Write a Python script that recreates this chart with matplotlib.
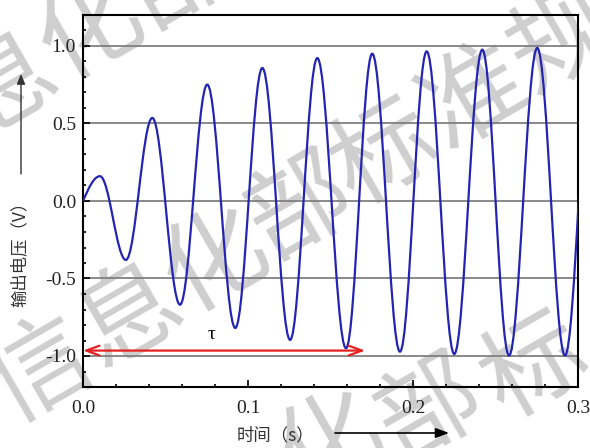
import matplotlib
matplotlib.use("Agg")
import matplotlib.pyplot as plt
from matplotlib.path import Path
from matplotlib.patches import PathPatch
from matplotlib.ticker import MultipleLocator

plt.rcParams['font.family'] = ['Liberation Serif', 'DejaVu Sans']

# extrema of the output voltage (s, V)
t_ext = [0.0, 0.0103, 0.0260, 0.0420, 0.0588, 0.0753, 0.0923, 0.1087, 0.1255,
         0.1420, 0.1594, 0.1753, 0.1921, 0.2083, 0.2250, 0.2420, 0.2582,
         0.2753, 0.2921, 0.3087]
v_ext = [0.0, 0.16, -0.38, 0.536, -0.669, 0.751, -0.819, 0.858, -0.896,
         0.922, -0.950, 0.950, -0.972, 0.965, -0.987, 0.976, -0.997,
         0.987, -0.997, 0.99]

tau_end = 0.171
tau_level = -0.965

xticks = [0.0, 0.1, 0.2, 0.3]
yticks = [-1.0, -0.5, 0.0, 0.5, 1.0]

# watermark characters and where they sit on the page (pixels)
wm_chars = ['息', '化', '部',
            '信', '息', '化', '部', '标', '准', '规',
            '化', '部', '标']
wm_pos = [(5, 85), (90, 30), (178, -22),
          (40, 372), (130, 316), (215, 262), (300, 208), (385, 155),
          (475, 98), (562, 42),
          (330, 445), (430, 410), (535, 368)]

W, H = 590, 448


def fx(x):
    return x / W


def fy(y):
    return 1 - y / H


fig = plt.figure(figsize=(W / 100, H / 100), dpi=100)
ax = fig.add_axes([fx(83), fy(387), (578 - 83) / W, (387 - 15) / H])

# smooth curve through the extrema (cubic bezier, flat at each extremum)
verts = [(t_ext[0], v_ext[0])]
codes = [Path.MOVETO]
for i in range(1, len(t_ext)):
    t0, v0 = t_ext[i - 1], v_ext[i - 1]
    t1, v1 = t_ext[i], v_ext[i]
    dt = t1 - t0
    if i == 1:
        c1 = (t0 + dt / 3, v0 + 0.52 * (v1 - v0))
    else:
        c1 = (t0 + 0.364 * dt, v0)
    c2 = (t1 - 0.364 * dt, v1)
    verts += [c1, c2, (t1, v1)]
    codes += [Path.CURVE4] * 3
ax.add_patch(PathPatch(Path(verts, codes), fill=False, edgecolor='#2424b4',
                       lw=1.6, zorder=3))

ax.set_xlim(0, 0.3)
ax.set_ylim(-1.2, 1.2)
ax.set_xticks(xticks)
ax.set_yticks(yticks)
ax.set_xticklabels([f'{v:.1f}' for v in xticks])
ax.set_yticklabels([f'{v:.1f}' for v in yticks])
ax.xaxis.set_minor_locator(MultipleLocator(0.02))
ax.yaxis.set_minor_locator(MultipleLocator(0.1))
ax.tick_params(which='both', direction='in', top=False, right=False,
               colors='black', labelcolor='#222222')
ax.tick_params(which='major', length=5, width=1.2, labelsize=14)
ax.tick_params(which='minor', length=2.5, width=1.2)
ax.tick_params(axis='x', pad=9)
ax.tick_params(axis='y', pad=5)
ax.grid(True, axis='y', which='major', color='#808080', lw=1.3)
ax.set_axisbelow(True)
for s in ax.spines.values():
    s.set_linewidth(1.5)
    s.set_color('black')

# tau arrow
ax.annotate('', xy=(0, tau_level), xytext=(tau_end, tau_level),
            arrowprops=dict(arrowstyle='<->,head_length=0.95,head_width=0.35',
                            color='#e52020', lw=1.6, shrinkA=0, shrinkB=0),
            zorder=4)
ax.text(0.078, -0.888, 'τ', ha='center', va='baseline', fontsize=14, zorder=4)

# axis labels with arrows
cjk = ['Noto Sans CJK SC', 'DejaVu Sans']
fig.text(fx(20), fy(250), '输出电压（V）', rotation=90, ha='center', va='center',
         fontsize=12.5, family=cjk, color='#333333')
fig.text(fx(275), fy(435), '时间（s）', ha='center', va='center',
         fontsize=12.5, family=cjk, color='#333333')
ax.annotate('', xy=(fx(21), fy(74)), xytext=(fx(21), fy(174)),
            xycoords='figure fraction', textcoords='figure fraction',
            arrowprops=dict(arrowstyle='-|>,head_length=0.6,head_width=0.25',
                            color='#333333', lw=1.0, shrinkA=0, shrinkB=0),
            annotation_clip=False)
ax.annotate('', xy=(fx(449), fy(433)), xytext=(fx(335), fy(433)),
            xycoords='figure fraction', textcoords='figure fraction',
            arrowprops=dict(arrowstyle='-|>,head_length=0.8,head_width=0.3',
                            color='black', lw=1.2, shrinkA=0, shrinkB=0),
            annotation_clip=False)

# light watermark behind the chart lines
for ch, (cx, cy) in zip(wm_chars, wm_pos):
    ax.text(fx(cx), fy(cy), ch, transform=fig.transFigure,
            rotation=30, rotation_mode='anchor', ha='center', va='center',
            fontsize=74, family=cjk, color='#c6c6c6', alpha=0.85,
            clip_on=False, zorder=0.2)

fig.savefig('out.png', dpi=100)
